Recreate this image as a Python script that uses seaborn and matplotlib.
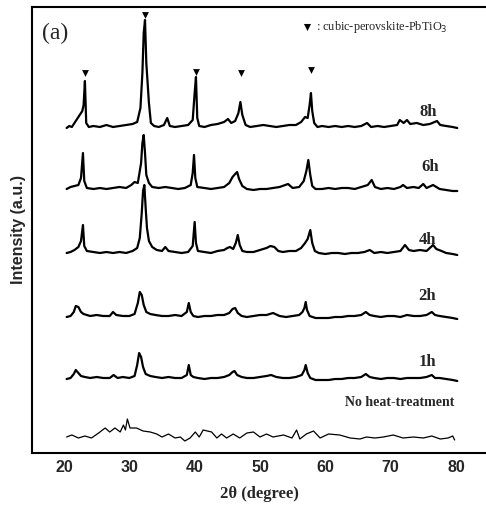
import matplotlib
matplotlib.use("Agg")
import matplotlib.pyplot as plt
import seaborn as sns
import pandas as pd

# ---------------- data (stacked intensity in a.u.) ----------------
tt_8h = [20.4, 20.8, 21.2, 21.6, 22.0, 22.4, 22.8, 23.0, 23.2, 23.4, 23.8, 24.5, 25.5, 26.5, 27.5,
         28.5, 29.5, 30.5, 31.2, 31.7, 32.0, 32.2, 32.4, 32.6, 32.8, 33.0, 33.3, 33.8, 34.5, 35.3,
         35.8, 36.2, 37.0, 38.0, 39.0, 39.7, 40.0, 40.2, 40.4, 40.7, 41.5, 42.5, 43.5, 44.5, 45.1,
         45.6, 46.2, 46.7, 47.0, 47.3, 47.8, 48.5, 49.5, 50.5, 51.5, 52.5, 53.5, 54.5, 55.5, 56.3,
         56.9, 57.3, 57.6, 57.8, 58.0, 58.3, 58.8, 59.5, 60.5, 61.5, 62.5, 63.5, 64.5, 65.5, 66.4,
         67.0, 68.0, 69.0, 70.0, 71.0, 71.4, 72.0, 72.5, 73.0, 74.0, 75.0, 76.0, 77.1, 77.6, 78.5,
         79.5, 80.2]
int_8h = [325, 327, 326, 330, 334, 338, 342, 348, 372, 330, 326, 327, 326, 328, 326,
          327, 328, 329, 331, 345, 380, 420, 433, 390, 370, 350, 330, 327, 326, 328,
          335, 327, 326, 327, 328, 333, 360, 376, 335, 327, 326, 328, 329, 331, 334,
          330, 332, 340, 351, 338, 328, 326, 327, 328, 327, 326, 327, 328, 328, 331,
          336, 335, 348, 360, 342, 330, 326, 327, 326, 327, 326, 327, 326, 327, 330,
          326, 327, 326, 327, 328, 333, 330, 333, 329, 330, 328, 329, 332, 328, 327,
          326, 325]

tt_6h = [20.4, 21.0, 21.6, 22.2, 22.6, 22.9, 23.1, 23.5, 24.5, 25.5, 26.5, 27.5, 28.5, 29.5, 30.3,
         30.8, 31.3, 31.8, 32.0, 32.2, 32.4, 32.6, 33.0, 33.5, 34.5, 35.5, 36.5, 37.5, 38.5, 39.4,
         39.7, 39.9, 40.1, 40.4, 41.5, 42.5, 43.5, 44.5, 45.3, 45.8, 46.2, 46.5, 46.8, 47.3, 48.0,
         49.0, 50.0, 51.0, 52.0, 53.0, 54.3, 55.0, 56.0, 56.7, 57.1, 57.4, 57.7, 58.0, 58.5, 59.5,
         60.5, 61.5, 62.5, 63.5, 64.5, 65.5, 66.5, 67.1, 67.6, 68.5, 69.5, 70.5, 71.5, 71.9, 72.5,
         73.5, 74.3, 75.0, 75.5, 76.5, 77.5, 78.5, 79.5, 80.2]
int_6h = [264, 266, 267, 268, 275, 300, 272, 265, 264, 265, 264, 265, 266, 265, 268,
          271, 270, 290, 310, 318, 300, 278, 270, 266, 265, 266, 265, 264, 265, 268,
          280, 298, 275, 266, 265, 264, 265, 266, 270, 276, 279, 281, 274, 267, 264,
          263, 264, 264, 265, 266, 269, 265, 266, 272, 282, 293, 278, 267, 264, 264,
          265, 264, 265, 265, 264, 266, 268, 273, 266, 264, 265, 264, 266, 268, 265,
          266, 265, 269, 265, 268, 264, 263, 262, 262]

tt_4h = [20.4, 21.0, 21.6, 22.2, 22.6, 22.9, 23.1, 23.5, 24.5, 25.5, 26.5, 27.5, 28.5, 29.5, 30.5,
         31.2, 31.6, 31.9, 32.1, 32.3, 32.5, 32.7, 33.0, 33.5, 34.2, 35.0, 35.5, 36.0, 37.0, 38.0,
         39.0, 39.7, 40.0, 40.2, 40.5, 41.5, 42.5, 43.5, 44.5, 45.0, 45.4, 45.9, 46.3, 46.6, 46.9,
         47.3, 48.0, 49.0, 50.0, 51.0, 51.6, 52.2, 52.8, 53.5, 54.5, 55.5, 56.3, 56.9, 57.3, 57.7,
         58.0, 58.4, 59.0, 60.0, 61.0, 62.0, 63.0, 64.0, 65.0, 66.0, 66.8, 67.5, 68.5, 69.5, 70.5,
         71.5, 72.2, 72.8, 73.5, 74.5, 75.5, 76.5, 77.0, 77.8, 78.5, 79.5, 80.2]
int_4h = [200, 201, 203, 206, 212, 228, 207, 202, 201, 200, 201, 200, 201, 200, 202,
          205, 215, 240, 262, 268, 245, 225, 212, 206, 203, 202, 206, 202, 201, 200,
          201, 207, 231, 210, 202, 201, 200, 202, 203, 205, 206, 204, 210, 218, 208,
          202, 201, 201, 203, 205, 207, 206, 202, 201, 202, 202, 205, 210, 214, 223,
          210, 202, 200, 199, 200, 200, 199, 200, 200, 201, 203, 200, 201, 200, 201,
          202, 208, 203, 202, 203, 202, 208, 204, 202, 200, 199, 198]

tt_2h = [20.4, 21.0, 21.5, 21.8, 22.2, 22.6, 23.0, 24.0, 25.0, 26.0, 27.0, 27.5, 28.0, 29.0, 30.0,
         30.8, 31.3, 31.6, 31.9, 32.2, 32.6, 33.2, 34.0, 35.0, 36.0, 37.0, 38.0, 38.8, 39.1, 39.4,
         39.8, 40.5, 41.5, 42.5, 43.5, 44.5, 45.3, 45.8, 46.2, 46.6, 47.2, 48.0, 49.0, 50.0, 51.0,
         52.0, 53.0, 54.0, 55.0, 56.0, 56.5, 56.8, 57.0, 57.2, 57.6, 58.5, 59.5, 60.5, 61.5, 62.5,
         63.5, 64.5, 65.5, 66.2, 66.8, 67.5, 68.5, 69.5, 70.5, 71.5, 72.5, 73.5, 74.5, 75.5, 76.3,
         76.8, 77.5, 78.5, 79.5, 80.2]
int_2h = [136, 137, 141, 147, 146, 141, 139, 137, 138, 137, 137, 141, 138, 137, 137,
          139, 150, 161, 158, 148, 141, 139, 138, 137, 137, 138, 137, 141, 150, 141,
          137, 136, 137, 137, 138, 138, 140, 144, 145, 140, 137, 136, 137, 138, 138,
          140, 137, 136, 137, 138, 141, 145, 151, 143, 137, 135, 135, 135, 136, 136,
          137, 137, 138, 141, 138, 137, 136, 137, 137, 136, 138, 137, 137, 138, 141,
          138, 137, 136, 135, 134]

tt_1h = [20.4, 21.0, 21.5, 21.8, 22.2, 22.6, 23.2, 24.0, 25.0, 26.0, 27.0, 27.6, 28.2, 29.0, 30.0,
         30.8, 31.2, 31.5, 31.8, 32.1, 32.5, 33.2, 34.0, 35.0, 36.0, 37.0, 38.0, 38.8, 39.1, 39.4,
         39.8, 40.5, 41.5, 42.5, 43.5, 44.5, 45.3, 45.8, 46.1, 46.5, 47.2, 48.0, 49.0, 50.0, 51.0,
         51.7, 52.5, 53.5, 54.5, 55.5, 56.4, 56.8, 57.0, 57.3, 57.7, 58.5, 59.5, 60.5, 61.5, 62.5,
         63.5, 64.5, 65.5, 66.2, 66.8, 67.5, 68.5, 69.5, 70.5, 71.5, 72.5, 73.5, 74.5, 75.5, 76.3,
         76.8, 77.5, 78.5, 79.5, 80.2]
int_1h = [74, 75, 79, 83, 80, 77, 76, 75, 76, 75, 75, 78, 75, 76, 75,
          77, 88, 100, 96, 86, 79, 77, 76, 75, 76, 75, 75, 78, 88, 78,
          76, 75, 74, 75, 75, 76, 78, 81, 82, 78, 76, 75, 75, 76, 77,
          78, 76, 75, 75, 76, 78, 83, 88, 80, 75, 73, 73, 73, 74, 74,
          75, 75, 76, 79, 76, 75, 74, 75, 75, 74, 75, 75, 75, 76, 78,
          75, 75, 74, 73, 72]

tt_raw = [20.4, 21.2, 22.2, 23.2, 24.2, 25.3, 26.3, 27.0, 27.8, 28.6, 29.1, 29.4, 29.7, 30.1, 31.1,
          32.1, 33.2, 34.2, 35.0, 36.0, 37.0, 37.8, 38.5, 39.3, 40.1, 40.7, 41.3, 42.6, 43.4, 44.1,
          44.9, 45.9, 46.9, 48.0, 49.0, 50.0, 51.0, 52.0, 53.6, 54.9, 55.6, 56.1, 57.1, 58.2, 59.2,
          60.5, 62.2, 63.8, 65.3, 66.3, 67.6, 68.9, 70.4, 71.9, 73.5, 75.0, 76.3, 77.6, 78.8, 79.5,
          79.8]
int_raw = [16, 18, 15, 17, 15, 20, 25, 21, 25, 21, 28, 23, 34, 25, 25,
           22, 21, 19, 16, 19, 15, 16, 12, 15, 21, 16, 23, 21, 15, 19,
           15, 19, 15, 20, 21, 16, 19, 16, 18, 15, 23, 14, 19, 22, 15,
           19, 18, 15, 14, 16, 15, 16, 18, 15, 16, 15, 17, 14, 15, 17,
           13]

sample_names = ["8h", "6h", "4h", "2h", "1h"]
marker_tt = [23.2, 32.4, 40.2, 47.1, 57.8]
marker_int = [380, 438, 381, 380, 383]
xticks = [20, 30, 40, 50, 60, 70, 80]

# ---------------- figure ----------------
sns.set_theme(style="white")
plt.rcParams["font.family"] = ["Liberation Serif", "DejaVu Serif"]

fig = plt.figure(figsize=(4.86, 5.16), dpi=100)
ax = fig.add_axes([32 / 486, 1 - 453 / 516, (486 - 32) / 486, (453 - 7) / 516])

series = [(tt_8h, int_8h), (tt_6h, int_6h), (tt_4h, int_4h), (tt_2h, int_2h), (tt_1h, int_1h)]
rows = []
for name, (tt, it) in zip(sample_names, series):
    for a, b in zip(tt, it):
        rows.append({"two_theta": a, "intensity": b, "sample": name})
df = pd.DataFrame(rows)
df_raw = pd.DataFrame({"two_theta": tt_raw, "intensity": int_raw})

sns.lineplot(data=df, x="two_theta", y="intensity", units="sample", estimator=None,
             sort=False, color="black", lw=1.6, ax=ax)
sns.lineplot(data=df_raw, x="two_theta", y="intensity", estimator=None,
             sort=False, color="black", lw=0.9, ax=ax)

sns.scatterplot(x=marker_tt, y=marker_int, marker="v", s=24, color="black",
                edgecolor="black", linewidth=0, ax=ax, zorder=5)

# legend entry
ax.scatter([57.2], [426], marker="v", s=26, color="black", linewidths=0, zorder=5)
ax.text(58.6, 426, ": cubic-perovskite-PbTiO$_3$", fontsize=8.8, va="center", ha="left",
        family=["Liberation Serif"])

# panel label
ax.text(16.7, 420, "(a)", fontsize=17, va="center", ha="left")

# sample labels
label_x = [75.7, 76.0, 75.7, 75.6, 75.7]
label_y = [341, 286, 213, 157, 91]
for name, lx, ly in zip(sample_names, label_x, label_y):
    ax.text(lx, ly, name, fontsize=12, fontweight="bold", ha="center", va="center")
ax.text(71.4, 51, "No heat-treatment", fontsize=10, fontweight="bold", ha="center", va="center")

ax.set_xlim(15.1, 84.6)
ax.set_ylim(0, 446)
ax.set_xticks(xticks)
ax.set_xticklabels([str(t) for t in xticks], fontsize=11.5, fontweight="bold",
                   family=["Liberation Sans", "DejaVu Sans"])
ax.set_yticks([])
ax.tick_params(axis="x", direction="in", length=6, width=1.5, pad=5, color="black")
ax.set_xlabel("2θ (degree)", fontsize=12, fontweight="bold", labelpad=8)
ax.set_ylabel("Intensity (a.u.)", fontsize=11.5, fontweight="bold", labelpad=4,
              family=["Liberation Sans", "DejaVu Sans"])

for side in ["left", "bottom", "top"]:
    ax.spines[side].set_visible(True)
    ax.spines[side].set_color("black")
    ax.spines[side].set_linewidth(1.5)
ax.spines["right"].set_visible(False)

fig.savefig("out.png", dpi=100, facecolor="white")
